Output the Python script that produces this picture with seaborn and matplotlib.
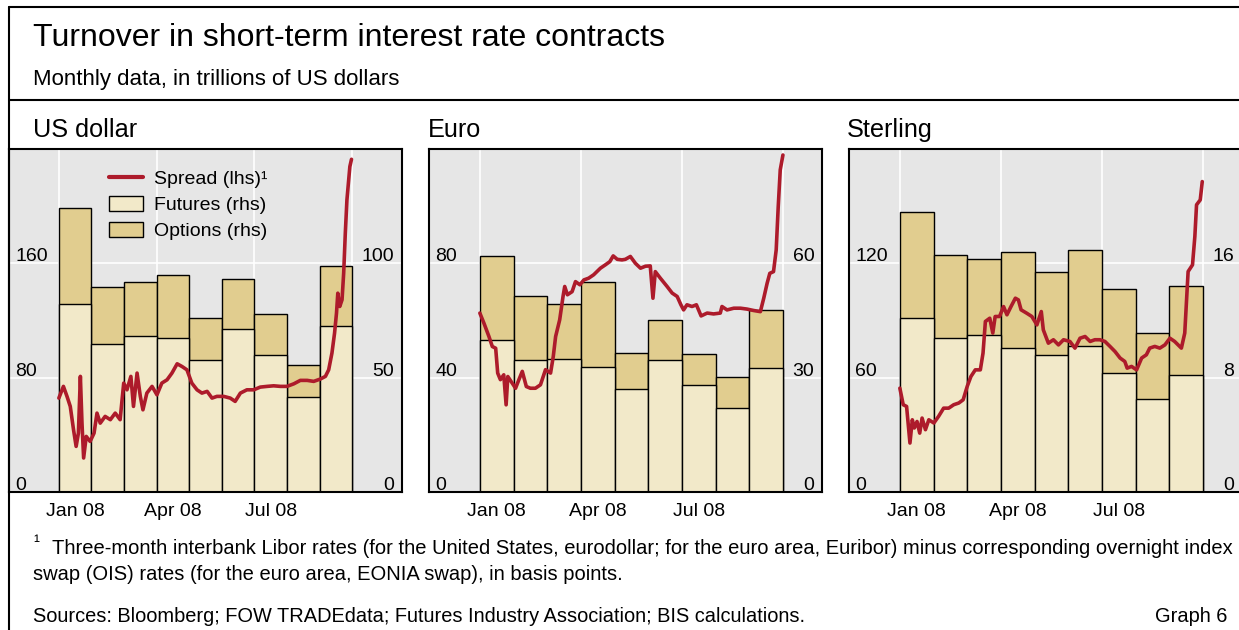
"""
Turnover in short-term interest rate contracts (BIS Graph 6)
Barras apiladas futuros/opciones (rhs) + spread Libor-OIS (lhs)
"""

import numpy as np
import pandas as pd
import matplotlib
matplotlib.use('Agg')
import matplotlib.pyplot as plt
import seaborn as sns
from matplotlib.lines import Line2D
from matplotlib.patches import Patch

sns.set_style('white')
plt.rcParams['font.family'] = ['Liberation Sans', 'DejaVu Sans']
plt.rcParams['text.color'] = 'black'
plt.rcParams['xtick.color'] = 'black'
plt.rcParams['ytick.color'] = 'black'

# --- datos ---
months = ['Jan 08', 'Feb 08', 'Mar 08', 'Apr 08', 'May 08', 'Jun 08',
          'Jul 08', 'Aug 08', 'Sep 08']
tick_months = ['Jan 08', 'Apr 08', 'Jul 08']

# turnover, trillones USD
usd_futures = [82.4, 64.7, 68.2, 67.3, 57.8, 71.4, 60.0, 41.4, 72.5]
usd_options = [41.8, 25.0, 23.8, 27.4, 18.2, 21.7, 17.8, 14.1, 26.5]
eur_futures = [40.0, 34.6, 35.0, 32.7, 27.1, 34.6, 28.1, 22.1, 32.5]
eur_options = [22.0, 16.8, 14.3, 22.3, 9.4, 10.6, 8.2, 8.0, 15.3]
gbp_futures = [12.2, 10.8, 11.0, 10.1, 9.6, 10.2, 8.3, 6.5, 8.2]
gbp_options = [7.4, 5.8, 5.3, 6.7, 5.8, 6.7, 5.9, 4.6, 6.2]

# spread (pb); x = meses desde inicio de enero 08
usd_spread_x = [0.00, 0.14, 0.25, 0.35, 0.45, 0.53, 0.60, 0.66, 0.71, 0.76,
                0.84, 0.96, 1.08, 1.17, 1.27, 1.42, 1.58, 1.73, 1.88, 1.99,
                2.09, 2.21, 2.29, 2.40, 2.50, 2.58, 2.70, 2.86, 3.01, 3.16,
                3.32, 3.47, 3.63, 3.78, 3.93, 4.08, 4.24, 4.39, 4.55, 4.70,
                4.85, 5.06, 5.26, 5.41, 5.57, 5.77, 5.98, 6.18, 6.39, 6.59,
                6.80, 7.00, 7.21, 7.41, 7.62, 7.82, 8.02, 8.18, 8.28, 8.38,
                8.46, 8.52, 8.56, 8.62, 8.69, 8.74, 8.79, 8.84, 8.93, 8.98]
usd_spread_y = [65.7, 73.9, 66.9, 59.9, 43.6, 31.9, 41.2, 80.9, 48.0, 23.8,
                38.9, 35.4, 41.2, 55.2, 48.2, 52.9, 50.6, 55.2, 50.6, 76.2,
                71.5, 80.9, 59.9, 83.2, 66.9, 57.5, 69.2, 73.9, 68.0, 76.2,
                78.5, 83.2, 89.7, 87.8, 85.5, 76.2, 71.5, 69.2, 70.4, 65.7,
                66.9, 66.9, 65.7, 63.4, 69.2, 71.5, 71.5, 73.4, 73.9, 74.3,
                73.9, 73.9, 75.7, 78.1, 78.1, 77.4, 79.0, 80.9, 85.5, 97.2,
                111.1, 125.2, 139.1, 129.8, 134.5, 153.1, 181.0, 204.4, 227.7, 232.8]

eur_spread_x = [0.00, 0.12, 0.27, 0.37, 0.47, 0.53, 0.61, 0.71, 0.78, 0.83,
                0.96, 1.06, 1.16, 1.26, 1.38, 1.50, 1.65, 1.80, 1.95, 2.10,
                2.18, 2.25, 2.37, 2.47, 2.52, 2.60, 2.74, 2.84, 2.97, 3.09,
                3.23, 3.38, 3.58, 3.73, 3.86, 3.96, 4.08, 4.22, 4.32, 4.47,
                4.62, 4.77, 4.92, 5.06, 5.14, 5.21, 5.36, 5.56, 5.71, 5.86,
                5.97, 6.05, 6.15, 6.30, 6.43, 6.57, 6.75, 6.94, 7.14, 7.19,
                7.34, 7.54, 7.74, 7.93, 8.13, 8.33, 8.43, 8.53, 8.61, 8.72,
                8.80, 8.86, 8.92, 9.00]
eur_spread_y = [62.6, 59.1, 54.4, 50.9, 50.3, 41.6, 39.3, 41.0, 30.5, 40.4,
                38.1, 36.3, 39.3, 42.2, 36.9, 36.3, 36.3, 37.5, 42.8, 41.6,
                47.4, 54.4, 60.2, 68.4, 71.9, 69.0, 70.1, 73.6, 72.5, 74.2,
                74.8, 76.0, 78.3, 79.5, 80.6, 82.6, 81.4, 81.2, 81.4, 82.4,
                80.0, 78.3, 79.0, 79.1, 67.8, 77.1, 74.8, 71.9, 69.6, 68.4,
                65.5, 63.7, 65.5, 64.9, 65.5, 61.6, 62.6, 62.3, 62.6, 64.9,
                63.7, 64.3, 64.3, 64.0, 63.5, 63.1, 67.8, 73.0, 76.5, 77.1,
                84.7, 99.8, 112.7, 117.9]

gbp_spread_x = [0.00, 0.10, 0.20, 0.30, 0.37, 0.43, 0.51, 0.59, 0.66, 0.76,
                0.86, 1.01, 1.15, 1.30, 1.45, 1.60, 1.75, 1.88, 2.00, 2.11,
                2.24, 2.39, 2.47, 2.54, 2.67, 2.76, 2.83, 2.96, 3.08, 3.18,
                3.30, 3.43, 3.52, 3.60, 3.77, 3.92, 4.07, 4.20, 4.26, 4.41,
                4.56, 4.71, 4.86, 5.05, 5.20, 5.35, 5.50, 5.65, 5.79, 5.94,
                6.09, 6.24, 6.39, 6.54, 6.68, 6.75, 6.88, 7.03, 7.18, 7.32,
                7.42, 7.57, 7.72, 7.87, 8.02, 8.16, 8.36, 8.46, 8.56, 8.69,
                8.76, 8.81, 8.92, 8.98]
gbp_spread_y = [54.5, 45.8, 44.9, 25.7, 37.9, 33.6, 37.0, 30.9, 38.8, 32.7,
                37.9, 36.2, 39.7, 44.0, 44.0, 45.8, 46.7, 48.4, 55.4, 60.6,
                64.1, 64.1, 72.9, 89.5, 91.2, 83.4, 92.1, 92.1, 97.3, 93.0,
                97.3, 101.7, 100.8, 95.6, 93.8, 92.1, 87.7, 94.7, 85.1, 78.1,
                79.9, 77.2, 79.9, 79.0, 75.5, 80.7, 81.6, 79.0, 79.9, 79.9,
                79.0, 76.4, 73.7, 70.3, 68.5, 65.0, 65.9, 64.1, 70.3, 72.0,
                75.5, 76.4, 75.5, 77.2, 80.7, 79.0, 75.5, 83.4, 115.7, 119.2,
                134.1, 150.7, 153.3, 162.9]

# ejes: ticks lhs (spread) y rhs (turnover)
usd_lhs_ticks = [0, 80, 160]
usd_rhs_ticks = [0, 50, 100]
eur_lhs_ticks = [0, 40, 80]
eur_rhs_ticks = [0, 30, 60]
gbp_lhs_ticks = [0, 60, 120]
gbp_rhs_ticks = [0, 8, 16]

# --- estilo ---
COL_FUT = '#F2E9C9'
COL_OPT = '#E1CD8F'
COL_LINE = '#AD1B2B'
COL_BG = '#E6E6E6'
FS = 14

W, H = 1239, 630


def panel(fig, left_px, title, title_px, futures, options, sx, sy,
          lhs_ticks, rhs_ticks, xlim, legend=False):
    ax_w, ax_h = 393, 343
    ax = fig.add_axes([left_px / W, 138 / H, ax_w / W, ax_h / H])
    ax.set_facecolor(COL_BG)

    df = pd.DataFrame({'x': np.arange(len(months)),
                       'fut': futures,
                       'tot': np.array(futures) + np.array(options)})
    sns.barplot(data=df, x='x', y='tot', ax=ax, native_scale=True, width=1.0,
                color=COL_OPT, saturation=1, edgecolor='black', linewidth=1.0,
                errorbar=None)
    sns.barplot(data=df, x='x', y='fut', ax=ax, native_scale=True, width=1.0,
                color=COL_FUT, saturation=1, edgecolor='black', linewidth=1.0,
                errorbar=None)

    ax.set_ylim(0, rhs_ticks[-1] * 1.5)
    ax.set_xlim(*xlim)
    ax.set_yticks(rhs_ticks)
    ax.set_xticks([-0.5, 2.5, 5.5, 8.5])
    ax.set_xticklabels([])
    ax.set_xticks([0, 3, 6], minor=True)
    ax.set_xticklabels(tick_months, minor=True, fontsize=FS)
    ax.tick_params(which='both', length=0, labelleft=False)
    ax.tick_params(which='minor', pad=8)
    ax.grid(True, color='white', lw=1.2)
    ax.set_axisbelow(True)
    ax.set_xlabel('')
    ax.set_ylabel('')
    for s in ax.spines.values():
        s.set_visible(True)
        s.set_color('black')
        s.set_linewidth(1.5)

    # linea de spread en eje lhs
    axl = ax.twinx()
    sns.lineplot(x=np.array(sx) - 0.5, y=sy, ax=axl, color=COL_LINE, lw=2.6,
                 estimator=None, sort=False)
    axl.set_ylim(0, lhs_ticks[-1] * 1.5)
    axl.set_yticks([])
    for s in axl.spines.values():
        s.set_visible(False)

    # etiquetas de ticks dentro del area
    for v in lhs_ticks:
        axl.annotate(str(v), xy=(0, v), xycoords=('axes fraction', 'data'),
                     xytext=(4.5, 1.5), textcoords='offset points',
                     ha='left', va='baseline', fontsize=FS)
    for v in rhs_ticks:
        axl.annotate(str(v), xy=(1, v * lhs_ticks[-1] / rhs_ticks[-1]),
                     xycoords=('axes fraction', 'data'),
                     xytext=(-5.5, 1.5), textcoords='offset points',
                     ha='right', va='baseline', fontsize=FS)

    fig.text(title_px / W, 1 - 130 / H, title, fontsize=18.2,
             ha='left', va='center')

    if legend:
        handles = [Line2D([], [], color=COL_LINE, lw=3),
                   Patch(facecolor=COL_FUT, edgecolor='black', lw=1.0),
                   Patch(facecolor=COL_OPT, edgecolor='black', lw=1.0)]
        labels = ['Spread (lhs)¹', 'Futures (rhs)', 'Options (rhs)']
        axl.legend(handles, labels, loc='upper left',
                   bbox_to_anchor=(0.22, 0.98), frameon=False, fontsize=FS,
                   handlelength=1.75, handleheight=0.8, labelspacing=0.42,
                   handletextpad=0.55, borderaxespad=0.3)
    return ax


fig = plt.figure(figsize=(W / 100, H / 100), dpi=100)

panel(fig, 9, 'US dollar', 33, usd_futures, usd_options, usd_spread_x,
      usd_spread_y, usd_lhs_ticks, usd_rhs_ticks, (-2.03, 10.03), legend=True)
panel(fig, 429, 'Euro', 428, eur_futures, eur_options, eur_spread_x,
      eur_spread_y, eur_lhs_ticks, eur_rhs_ticks, (-2.01, 9.66))
panel(fig, 849, 'Sterling', 847, gbp_futures, gbp_options, gbp_spread_x,
      gbp_spread_y, gbp_lhs_ticks, gbp_rhs_ticks, (-2.01, 9.66))

# marco y textos
x0 = 9 / W
fig.add_artist(Line2D([x0, x0], [0, 1 - 7 / H], transform=fig.transFigure,
                      color='black', lw=1.5))
fig.add_artist(Line2D([x0, 1], [1 - 7 / H, 1 - 7 / H], transform=fig.transFigure,
                      color='black', lw=1.5))
fig.add_artist(Line2D([x0, 1], [1 - 100 / H, 1 - 100 / H], transform=fig.transFigure,
                      color='black', lw=1.5))

fig.text(33 / W, 1 - 38 / H, 'Turnover in short-term interest rate contracts',
         fontsize=23, ha='left', va='center')
fig.text(33 / W, 1 - 80 / H, 'Monthly data, in trillions of US dollars',
         fontsize=16, ha='left', va='center')

fig.text(33 / W, 1 - 542 / H, '¹', fontsize=13, ha='left', va='center')
fig.text(52 / W, 1 - 548 / H,
         'Three-month interbank Libor rates (for the United States, eurodollar; '
         'for the euro area, Euribor) minus corresponding overnight index',
         fontsize=14.5, ha='left', va='center')
fig.text(33 / W, 1 - 575 / H,
         'swap (OIS) rates (for the euro area, EONIA swap), in basis points.',
         fontsize=14.5, ha='left', va='center')
fig.text(33 / W, 1 - 617 / H,
         'Sources: Bloomberg; FOW TRADEdata; Futures Industry Association; BIS calculations.',
         fontsize=14.4, ha='left', va='center')
fig.text(1227 / W, 1 - 617 / H, 'Graph 6', fontsize=14.4, ha='right', va='center')

fig.savefig('out.png', dpi=100)
